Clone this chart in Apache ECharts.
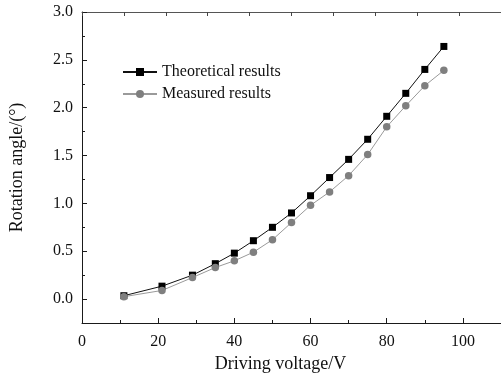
<!DOCTYPE html>
<html>
<head>
<meta charset="utf-8">
<script src="https://cdn.jsdelivr.net/npm/echarts@6/dist/echarts.min.js"></script>
<style>
html,body{margin:0;padding:0;background:#fff;}
#c{width:501px;height:378px;}
</style>
</head>
<body>
<div id="c"></div>
<script>
var voltages = [11, 21, 29, 35, 40, 45, 50, 55, 60, 65, 70, 75, 80, 85, 90, 95];
var theoretical = [0.035, 0.135, 0.25, 0.37, 0.48, 0.61, 0.75, 0.90, 1.08, 1.27, 1.46, 1.67, 1.91, 2.15, 2.40, 2.64];
var measured = [0.025, 0.09, 0.225, 0.33, 0.40, 0.49, 0.62, 0.80, 0.98, 1.12, 1.29, 1.51, 1.80, 2.02, 2.23, 2.39];
var xMajorTicks = [0, 20, 40, 60, 80, 100];
var xMinorTicks = [10, 30, 50, 70, 90];
var yMajorTicks = [0, 0.5, 1.0, 1.5, 2.0, 2.5, 3.0];
var yMinorTicks = [0.25, 0.75, 1.25, 1.75, 2.25, 2.75];
var seriesNames = ['Theoretical results', 'Measured results'];

var FONT = "'Liberation Serif', 'Times New Roman', serif";
var AX = '#1a1a1a';

function pair(xs, ys) { return xs.map(function (x, i) { return [x, ys[i]]; }); }

var chart = echarts.init(document.getElementById('c'), null, {renderer: 'canvas'});
chart.setOption({
  animation: false,
  backgroundColor: '#fff',
  grid: {left: 82, top: 12, width: 421, height: 313, containLabel: false},
  legend: {
    orient: 'vertical', left: 117, top: 59, itemWidth: 34, itemHeight: 10, itemGap: 6,
    textStyle: {fontFamily: FONT, fontSize: 16, color: '#111', lineHeight: 16},
    data: seriesNames
  },
  xAxis: [{
    type: 'value', min: 0, max: 110, position: 'bottom',
    name: 'Driving voltage/V', nameLocation: 'middle', nameGap: 32,
    nameTextStyle: {fontFamily: FONT, fontSize: 18, color: '#111', padding: [0, 22, 0, 0]},
    axisLine: {show: true, onZero: false, lineStyle: {color: AX, width: 1}},
    axisTick: {show: true, inside: true, length: 5, customValues: xMajorTicks, lineStyle: {color: AX}},
    axisLabel: {customValues: xMajorTicks, fontFamily: FONT, fontSize: 16, color: '#111', margin: 11,
      formatter: function (v) { return String(v); }},
    splitLine: {show: false}
  }, {
    type: 'value', min: 0, max: 110, position: 'bottom',
    axisLine: {show: false, onZero: false},
    axisTick: {show: true, inside: true, length: 3, customValues: xMinorTicks, lineStyle: {color: AX}},
    axisLabel: {show: false}, splitLine: {show: false}
  }, {
    type: 'value', min: 0, max: 10, interval: 1, position: 'top',
    axisLine: {show: true, onZero: false, lineStyle: {color: '#555', width: 1}},
    axisTick: {show: true, inside: true, length: 4, lineStyle: {color: '#444'}},
    axisLabel: {show: false}, splitLine: {show: false}
  }],
  yAxis: [{
    type: 'value', min: -0.25, max: 3.0, position: 'left',
    name: 'Rotation angle/(°)', nameLocation: 'middle', nameGap: 56, nameRotate: 90,
    nameTextStyle: {fontFamily: FONT, fontSize: 18, color: '#111'},
    axisLine: {show: true, onZero: false, lineStyle: {color: AX, width: 1}},
    axisTick: {show: true, inside: true, length: 5, customValues: yMajorTicks, lineStyle: {color: AX}},
    axisLabel: {customValues: yMajorTicks, fontFamily: FONT, fontSize: 16, color: '#111', margin: 9,
      formatter: function (v) { return v.toFixed(1); }},
    splitLine: {show: false}
  }, {
    type: 'value', min: -0.25, max: 3.0, position: 'left',
    axisLine: {show: false, onZero: false},
    axisTick: {show: true, inside: true, length: 3, customValues: yMinorTicks, lineStyle: {color: AX}},
    axisLabel: {show: false}, splitLine: {show: false}
  }],
  series: [{
    name: seriesNames[0], type: 'line', xAxisIndex: 0, yAxisIndex: 0,
    data: pair(voltages, theoretical),
    symbol: 'rect', symbolSize: 7,
    lineStyle: {color: '#111', width: 1},
    itemStyle: {color: '#000'}
  }, {
    name: seriesNames[1], type: 'line', xAxisIndex: 0, yAxisIndex: 0,
    data: pair(voltages, measured),
    symbol: 'circle', symbolSize: 7.5,
    lineStyle: {color: '#9a9a9a', width: 1},
    itemStyle: {color: '#7f7f7f'}
  }]
});
</script>
</body>
</html>
